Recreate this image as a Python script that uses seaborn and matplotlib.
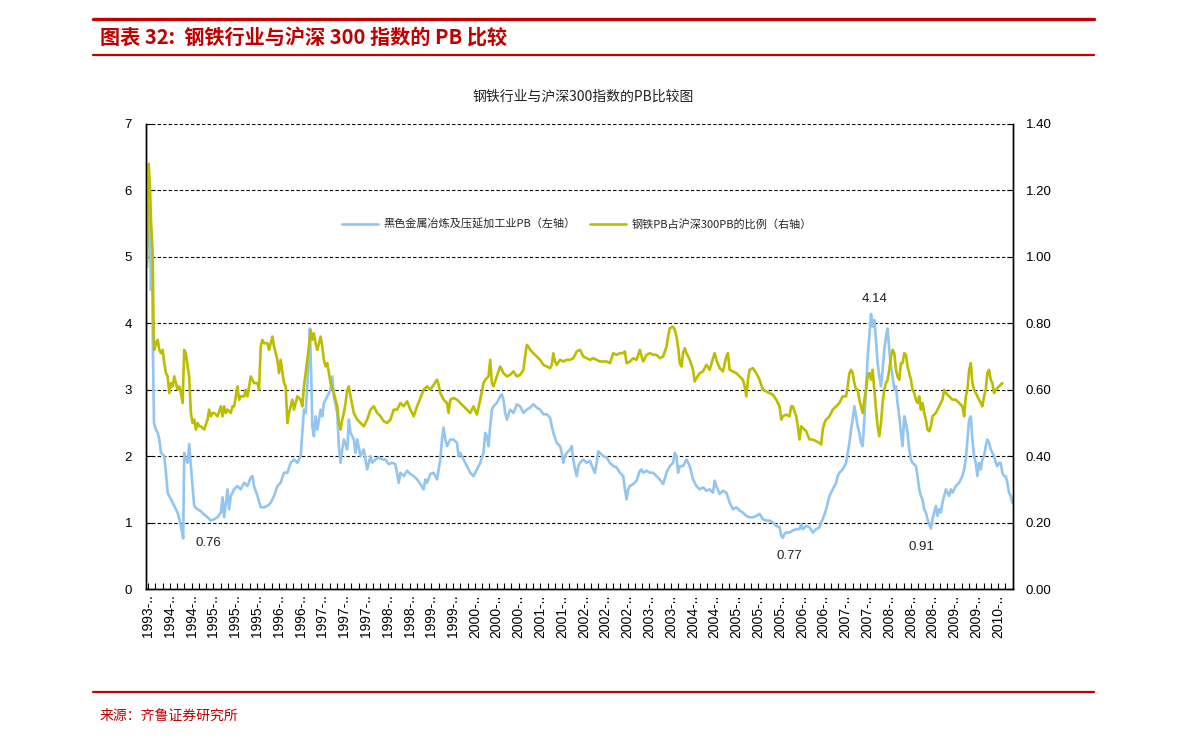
import numpy as np
import pandas as pd
import matplotlib
matplotlib.use('Agg')
import matplotlib.pyplot as plt
from matplotlib.lines import Line2D
import seaborn as sns

sns.set_theme(style='white')
plt.rcParams['font.family'] = ['Noto Sans CJK SC', 'DejaVu Sans']
plt.rcParams['axes.unicode_minus'] = False

# x = trading week since the start of the series
blue_week = [0, 1, 2, 3, 4, 5, 6, 7,
             9, 10.7, 12.3, 14, 17.3, 19, 20.7, 22.3,
             24, 27.3, 30.7, 34, 36.3, 37.3, 39, 40.7,
             42.3, 44, 45.7, 47.3, 50.7, 54, 57.3, 60.7,
             64, 67.3, 70.7, 74, 75.7, 77.3, 80.7, 82.3,
             84, 87.3, 90.7, 94, 97.3, 100.7, 104, 105.7,
             107.3, 110.7, 114, 117.3, 120.7, 124, 127.3, 130.7,
             134, 137.3, 140.7, 144, 147.3, 150.7, 154, 155.7,
             157.3, 159, 160.7, 162.3, 163.3, 164.7, 165.7, 167.3,
             169, 170.7, 174, 175.7, 177.3, 180.7, 184, 185.7,
             187.3, 190.7, 192.3, 194, 195.7, 197.3, 200.7, 202.3,
             204, 207.3, 209, 210.7, 214, 217.3, 220.7, 224,
             225.7, 229, 232.3, 235.7, 239, 242.3, 245.7, 249,
             252.3, 254, 257.3, 260.7, 264, 267.3, 270.7, 274,
             277.3, 279, 280.7, 284, 287.3, 290.7, 294, 295.7,
             297.3, 299, 300.7, 304, 307.3, 310.7, 312.3, 314,
             317.3, 320.7, 324, 327.3, 330.7, 334, 337.3, 339,
             340.7, 342.3, 344, 345.7, 347.3, 350.7, 354, 355.7,
             357.3, 359, 360.7, 364, 367.3, 370.7, 374, 377.3,
             380.7, 384, 387.3, 390.7, 394, 397.3, 400.7, 404,
             405.7, 407.3, 410.7, 414, 415.7, 417.3, 419, 420.7,
             424, 425.7, 427.3, 429, 430.7, 432.3, 434, 437.3,
             440.7, 444, 447.3, 449, 450.7, 452.3, 454, 457.3,
             460.7, 464, 467.3, 470.7, 474, 477.3, 479, 480.7,
             482.3, 484, 487.3, 490.7, 494, 495.7, 497.3, 500.7,
             504, 507.3, 510.7, 514, 517.3, 520.7, 524, 527.3,
             529, 530.7, 532.3, 534, 537.3, 540.7, 544, 547.3,
             550.7, 554, 557.3, 560.7, 564, 567.3, 569, 570.7,
             574, 577.3, 580.7, 584, 587.3, 590.7, 594, 597.3,
             600.7, 604, 607.3, 610.7, 614, 617.3, 620.7, 624,
             627.3, 630.7, 634, 635.7, 637.3, 639, 640.7, 644,
             647.3, 650.7, 654, 655.7, 657.3, 660.7, 664, 667.3,
             670.7, 674, 675.7, 677.3, 680.7, 684, 687.3, 690.7,
             692.3, 694, 697.3, 700.7, 702.3, 704, 705.7, 707.3,
             709, 710.7, 712.3, 714, 715.7, 717.3, 719, 720.7,
             722.3, 724, 725.7, 727.3, 729, 730.7, 732.3, 734,
             735.7, 737.3, 739, 740.7, 742.3, 744, 745.7, 747.3,
             749, 750.7, 752.3, 754, 755.7, 757.3, 759, 760.7,
             762.3, 764, 765.7, 767.3, 770.7, 772.3, 774, 775.7,
             777.3, 779, 780.7, 782.3, 784, 785.7, 787.3, 789,
             790.7, 792.3, 794, 795.7, 797.3, 799, 800.7, 804,
             805.7, 807.3, 809, 810.7, 814, 817.3, 819, 820.7,
             822.3, 824, 825.7, 827.3, 829, 830.7, 832.3, 834,
             835.7, 837.3, 839, 840.7, 842.3, 844, 845.7, 847.3,
             849, 850.7, 852.3, 854, 855.7, 857.3, 859, 860.7,
             862.3, 864, 865.7, 867.3]
blue_pb = [4.9, 5.5, 5.78, 5.3, 4.5, 5.05, 3.5, 2.5,
           2.4, 2.35, 2.25, 2.05, 2.0, 1.75, 1.45, 1.4,
           1.35, 1.25, 1.15, 0.95, 0.76, 2.05, 1.95, 1.9,
           2.18, 1.85, 1.55, 1.25, 1.2, 1.17, 1.12, 1.08,
           1.03, 1.05, 1.08, 1.15, 1.38, 1.08, 1.5, 1.2,
           1.4, 1.5, 1.55, 1.5, 1.6, 1.55, 1.68, 1.7,
           1.55, 1.4, 1.23, 1.23, 1.25, 1.3, 1.4, 1.55,
           1.6, 1.75, 1.75, 1.9, 1.95, 1.9, 2.0, 2.35,
           2.7, 2.65, 3.05, 3.55, 3.92, 3.15, 2.45, 2.3,
           2.6, 2.4, 2.7, 2.6, 2.8, 2.9, 3.0, 3.2,
           2.9, 2.65, 2.15, 1.9, 2.1, 2.25, 2.1, 2.55,
           2.35, 2.25, 2.05, 2.25, 2.0, 2.1, 1.8, 2.0,
           1.9, 1.95, 1.98, 1.95, 1.95, 1.88, 1.9, 1.88,
           1.6, 1.75, 1.7, 1.78, 1.73, 1.7, 1.65, 1.58,
           1.5, 1.65, 1.6, 1.73, 1.75, 1.65, 1.95, 2.25,
           2.43, 2.25, 2.15, 2.25, 2.25, 2.2, 2.0, 2.05,
           1.95, 1.85, 1.75, 1.7, 1.8, 1.9, 2.05, 2.35,
           2.3, 2.15, 2.45, 2.7, 2.75, 2.8, 2.9, 2.93,
           2.85, 2.65, 2.55, 2.7, 2.65, 2.78, 2.75, 2.65,
           2.7, 2.73, 2.78, 2.73, 2.7, 2.63, 2.63, 2.58,
           2.45, 2.35, 2.2, 2.15, 2.05, 1.9, 2.0, 2.05,
           2.1, 2.15, 1.95, 1.8, 1.7, 1.85, 1.9, 1.95,
           1.9, 1.93, 1.8, 1.75, 1.9, 2.07, 2.05, 2.0,
           1.98, 1.9, 1.85, 1.83, 1.75, 1.7, 1.5, 1.35,
           1.5, 1.55, 1.58, 1.63, 1.78, 1.8, 1.75, 1.78,
           1.75, 1.75, 1.7, 1.65, 1.58, 1.75, 1.85, 1.9,
           2.05, 2.0, 1.75, 1.85, 1.85, 1.95, 1.85, 1.65,
           1.55, 1.5, 1.53, 1.48, 1.5, 1.45, 1.63, 1.55,
           1.43, 1.48, 1.45, 1.3, 1.2, 1.23, 1.18, 1.15,
           1.1, 1.08, 1.08, 1.1, 1.13, 1.05, 1.03, 1.03,
           1.0, 0.95, 0.93, 0.8, 0.77, 0.83, 0.85, 0.85,
           0.88, 0.9, 0.9, 0.98, 0.9, 0.95, 0.93, 0.85,
           0.9, 0.93, 1.0, 1.05, 1.2, 1.4, 1.5, 1.6,
           1.7, 1.75, 1.8, 1.9, 2.05, 2.2, 2.4, 2.55,
           2.75, 2.6, 2.45, 2.35, 2.2, 2.15, 2.55, 3.0,
           3.5, 3.8, 4.14, 3.95, 4.05, 3.75, 3.4, 3.2,
           3.05, 3.3, 3.6, 3.8, 3.92, 3.6, 3.35, 3.2,
           3.0, 3.05, 2.8, 2.6, 2.35, 2.15, 2.6, 2.5,
           2.35, 2.1, 1.95, 1.9, 1.85, 1.7, 1.5, 1.4,
           1.35, 1.2, 1.15, 1.05, 0.98, 0.91, 1.05, 1.15,
           1.25, 1.1, 1.2, 1.15, 1.3, 1.4, 1.5, 1.4,
           1.5, 1.45, 1.5, 1.55, 1.6, 1.7, 1.8, 1.95,
           2.25, 2.55, 2.6, 2.25, 2.0, 1.9, 1.7, 1.9,
           1.8, 1.95, 2.0, 2.15, 2.25, 2.2, 2.1, 2.05,
           2.0, 1.9, 1.85, 1.9, 1.9, 1.75, 1.7, 1.7,
           1.6, 1.45, 1.4, 1.3]

ratio_week = [0, 0.7, 1.7, 3, 4, 5.7, 6.7, 7.3,
              9, 10.7, 12.3, 14, 15.7, 17.3, 19, 20.7,
              22.3, 24, 25.7, 27.3, 29, 30.7, 32.3, 34,
              35.7, 37.3, 39, 40.7, 42.3, 44, 45.7, 47.3,
              49, 50.7, 52.3, 54, 57.3, 60.7, 62.3, 64,
              65.7, 67.3, 70.7, 74, 75.7, 77.3, 79, 80.7,
              84, 85.7, 87.3, 90.7, 92.3, 94, 97.3, 99,
              100.7, 104, 107.3, 110.7, 112.3, 114, 115.7, 117.3,
              120.7, 122.3, 124, 125.7, 127.3, 130.7, 132.3, 134,
              137.3, 139, 140.7, 142.3, 144, 145.7, 147.3, 150.7,
              154, 155.7, 157.3, 159, 160.7, 162.3, 164, 165.7,
              167.3, 169, 170.7, 174, 175.7, 177.3, 179, 180.7,
              184, 187.3, 190.7, 192.3, 194, 195.7, 197.3, 199,
              200.7, 202.3, 204, 207.3, 210.7, 214, 217.3, 220.7,
              224, 227.3, 230.7, 234, 237.3, 240.7, 244, 247.3,
              250.7, 254, 257.3, 260.7, 264, 267.3, 270.7, 274,
              277.3, 280.7, 284, 287.3, 290.7, 292.3, 294, 297.3,
              300.7, 302.3, 304, 307.3, 310.7, 314, 317.3, 320.7,
              324, 327.3, 330.7, 334, 337.3, 339, 342.3, 344,
              345.7, 347.3, 350.7, 354, 357.3, 360.7, 364, 367.3,
              370.7, 374, 377.3, 379, 380.7, 382.3, 384, 387.3,
              390.7, 394, 397.3, 400.7, 404, 405.7, 407.3, 409,
              410.7, 414, 417.3, 420.7, 424, 427.3, 430.7, 434,
              437.3, 440.7, 444, 447.3, 450.7, 454, 457.3, 460.7,
              464, 467.3, 470.7, 474, 477.3, 479, 480.7, 484,
              487.3, 490.7, 494, 495.7, 497.3, 500.7, 504, 507.3,
              510.7, 514, 517.3, 520.7, 522.3, 524, 527.3, 529,
              530.7, 532.3, 534, 535.7, 537.3, 539, 540.7, 544,
              547.3, 549, 550.7, 554, 557.3, 560.7, 564, 567.3,
              569, 570.7, 574, 577.3, 580.7, 582.3, 584, 587.3,
              590.7, 594, 597.3, 599, 600.7, 602.3, 604, 607.3,
              610.7, 614, 617.3, 620.7, 624, 627.3, 630.7, 634,
              635.7, 637.3, 640.7, 644, 645.7, 647.3, 650.7, 652.3,
              654, 655.7, 657.3, 660.7, 664, 667.3, 670.7, 674,
              675.7, 677.3, 679, 680.7, 684, 687.3, 690.7, 694,
              697.3, 700.7, 702.3, 704, 705.7, 707.3, 709, 710.7,
              712.3, 714, 715.7, 717.3, 719, 720.7, 722.3, 724,
              725.7, 727.3, 729, 730.7, 732.3, 734, 735.7, 737.3,
              739, 740.7, 742.3, 744, 745.7, 747.3, 749, 750.7,
              752.3, 754, 755.7, 757.3, 759, 760.7, 762.3, 764,
              765.7, 767.3, 769, 770.7, 772.3, 774, 775.7, 777.3,
              779, 780.7, 782.3, 784, 785.7, 787.3, 790.7, 794,
              797.3, 799, 800.7, 804, 807.3, 810.7, 814, 817.3,
              819, 820.7, 822.3, 824, 825.7, 827.3, 829, 830.7,
              834, 835.7, 837.3, 839, 840.7, 842.3, 844, 845.7,
              847.3, 849, 850.7, 852.3, 854, 855.7, 857.3]
ratio_val = [0.97, 1.19, 1.28, 1.21, 1.11, 1.01, 0.76, 0.72,
             0.74, 0.75, 0.72, 0.71, 0.72, 0.68, 0.65, 0.64,
             0.59, 0.62, 0.61, 0.64, 0.62, 0.60, 0.61, 0.59,
             0.56, 0.72, 0.71, 0.67, 0.64, 0.53, 0.50, 0.51,
             0.48, 0.50, 0.49, 0.49, 0.48, 0.51, 0.54, 0.52,
             0.53, 0.53, 0.52, 0.55, 0.52, 0.55, 0.53, 0.54,
             0.53, 0.55, 0.55, 0.61, 0.57, 0.58, 0.58, 0.60,
             0.58, 0.64, 0.62, 0.62, 0.60, 0.73, 0.75, 0.74,
             0.74, 0.72, 0.74, 0.76, 0.73, 0.69, 0.65, 0.69,
             0.62, 0.61, 0.50, 0.53, 0.55, 0.57, 0.54, 0.58,
             0.57, 0.55, 0.61, 0.65, 0.69, 0.73, 0.78, 0.75,
             0.77, 0.74, 0.72, 0.76, 0.73, 0.69, 0.67, 0.68,
             0.62, 0.59, 0.55, 0.50, 0.48, 0.51, 0.53, 0.56,
             0.60, 0.61, 0.58, 0.53, 0.51, 0.50, 0.49, 0.51,
             0.54, 0.55, 0.53, 0.52, 0.505, 0.50, 0.51, 0.54,
             0.54, 0.56, 0.55, 0.565, 0.54, 0.52, 0.55, 0.575,
             0.60, 0.61, 0.60, 0.615, 0.63, 0.615, 0.59, 0.57,
             0.56, 0.53, 0.57, 0.575, 0.57, 0.56, 0.55, 0.54,
             0.53, 0.55, 0.525, 0.57, 0.62, 0.63, 0.64, 0.69,
             0.62, 0.61, 0.64, 0.67, 0.65, 0.64, 0.645, 0.655,
             0.64, 0.645, 0.66, 0.70, 0.735, 0.73, 0.72, 0.71,
             0.70, 0.69, 0.675, 0.67, 0.665, 0.675, 0.71, 0.685,
             0.675, 0.69, 0.685, 0.69, 0.69, 0.695, 0.715, 0.72,
             0.70, 0.695, 0.69, 0.695, 0.69, 0.685, 0.685, 0.685,
             0.68, 0.71, 0.705, 0.71, 0.71, 0.715, 0.68, 0.685,
             0.695, 0.69, 0.72, 0.70, 0.685, 0.705, 0.71, 0.705,
             0.705, 0.695, 0.70, 0.73, 0.76, 0.785, 0.79, 0.78,
             0.76, 0.73, 0.68, 0.67, 0.71, 0.725, 0.71, 0.69,
             0.66, 0.625, 0.635, 0.65, 0.655, 0.675, 0.66, 0.695,
             0.71, 0.69, 0.665, 0.655, 0.70, 0.71, 0.66, 0.655,
             0.65, 0.64, 0.63, 0.61, 0.58, 0.63, 0.66, 0.665,
             0.65, 0.63, 0.60, 0.595, 0.59, 0.585, 0.57, 0.55,
             0.51, 0.52, 0.525, 0.52, 0.55, 0.55, 0.52, 0.49,
             0.45, 0.49, 0.485, 0.475, 0.45, 0.45, 0.445, 0.44,
             0.435, 0.48, 0.50, 0.51, 0.52, 0.54, 0.55, 0.56,
             0.58, 0.58, 0.61, 0.65, 0.66, 0.65, 0.62, 0.60,
             0.60, 0.57, 0.55, 0.53, 0.57, 0.60, 0.64, 0.65,
             0.63, 0.66, 0.60, 0.54, 0.49, 0.46, 0.50, 0.56,
             0.60, 0.62, 0.63, 0.66, 0.70, 0.72, 0.71, 0.66,
             0.64, 0.63, 0.68, 0.68, 0.71, 0.705, 0.67, 0.65,
             0.63, 0.60, 0.59, 0.57, 0.56, 0.58, 0.54, 0.56,
             0.53, 0.51, 0.48, 0.475, 0.49, 0.52, 0.53, 0.55,
             0.57, 0.60, 0.59, 0.58, 0.57, 0.57, 0.56, 0.55,
             0.52, 0.58, 0.60, 0.66, 0.68, 0.62, 0.60, 0.59,
             0.57, 0.56, 0.55, 0.58, 0.60, 0.65, 0.66, 0.63,
             0.62, 0.59, 0.60, 0.605, 0.61, 0.615, 0.62]

tick_years = ['1993', '1994', '1994', '1995', '1995', '1995', '1996', '1996',
              '1997', '1997', '1997', '1998', '1998', '1999', '1999', '2000',
              '2000', '2000', '2001', '2001', '2002', '2002', '2002', '2003',
              '2003', '2004', '2004', '2005', '2005', '2005', '2006', '2006',
              '2007', '2007', '2008', '2008', '2008', '2009', '2009', '2010']

# extreme points marked with their value
marks = [('0.76', 36.3), ('0.77', 637.3), ('4.14', 725.7), ('0.91', 785.7)]

name_pb = '黑色金属冶炼及压延加工业PB（左轴）'
name_ratio = '钢铁PB占沪深300PB的比例（右轴）'

blue = '#92C5F0'
olive = '#BDBD00'
red = '#C00000'
W, H = 1191, 742

df_pb = pd.DataFrame({'week': blue_week, 'pb': blue_pb})
df_ratio = pd.DataFrame({'week': ratio_week, 'ratio': ratio_val})

fig = plt.figure(figsize=(W / 100, H / 100), dpi=100)
fig.patch.set_facecolor('white')
ax = fig.add_axes([146 / W, 1 - 589 / H, (1013 - 146) / W, (589 - 124) / H])

sns.lineplot(data=df_pb, x='week', y='pb', ax=ax, color=blue, lw=1.9,
             estimator=None, sort=False, label=name_pb)
ax2 = ax.twinx()
sns.lineplot(data=df_ratio, x='week', y='ratio', ax=ax2, color=olive, lw=1.9,
             estimator=None, sort=False, label=name_ratio)

ax.set_xlim(-1, 868)
ax.set_ylim(0, 7)
ax2.set_ylim(0, 1.4)
ax.set_yticks(np.arange(0, 8, 1))
ax2.set_yticks(np.arange(0, 1.41, 0.2))
ax2.set_yticklabels(['%.2f' % v for v in np.arange(0, 1.41, 0.2)])

tick_pos = np.linspace(1, 853, len(tick_years))
ax.set_xticks(tick_pos)
ax.set_xticklabels([y + '-..' for y in tick_years], rotation=90,
                   family='Liberation Sans', fontsize=10)
step = tick_pos[1] - tick_pos[0]
ax.set_xticks(np.arange(tick_pos[0], 868, step / 3), minor=True)

for a in (ax, ax2):
    a.set_xlabel('')
    a.set_ylabel('')
    for lab in a.get_yticklabels():
        lab.set_family('Liberation Sans')
        lab.set_fontsize(9.5)
    for s in a.spines.values():
        s.set_color('black')
        s.set_linewidth(1.0)
    a.spines['top'].set_visible(False)
ax.tick_params(axis='x', which='both', direction='in', length=4, width=0.8,
               bottom=True, pad=4, colors='black')
ax.tick_params(axis='y', direction='in', length=4, width=0.8, left=True,
               pad=10, colors='black')
ax2.tick_params(axis='y', direction='in', length=4, width=0.8, right=True,
                pad=9, colors='black')

ax.yaxis.grid(True, color='black', ls=(0, (3, 2)), lw=0.8)
ax.xaxis.grid(False)
ax2.grid(False)

offsets = {'0.76': (25, -4), '0.77': (7, -18), '4.14': (4, 15), '0.91': (-9, -18)}
for txt, wk in marks:
    val = blue_pb[blue_week.index(wk)]
    ax.annotate(txt, xy=(wk, val), xytext=offsets[txt], textcoords='offset pixels',
                ha='center', va='center', fontsize=9.5, family='Liberation Sans',
                color='#222222')

h1, l1 = ax.get_legend_handles_labels()
h2, l2 = ax2.get_legend_handles_labels()
ax.get_legend().remove()
ax2.get_legend().remove()
fig.legend(h1 + h2, l1 + l2, loc='center', bbox_to_anchor=(577 / W, 1 - 224 / H),
           ncol=2, frameon=False, fontsize=8, handlelength=3.2,
           columnspacing=1.3, handletextpad=0.5)

fig.text(583 / W, 1 - 97 / H, '钢铁行业与沪深300指数的PB比较图', ha='center', va='center',
         fontsize=10, color='#222222')

fig.add_artist(Line2D([93 / W, 1094 / W], [1 - 19 / H] * 2, color=red, lw=2.4))
fig.add_artist(Line2D([93 / W, 1094 / W], [1 - 55 / H] * 2, color=red, lw=1.6))
fig.add_artist(Line2D([93 / W, 1094 / W], [1 - 692 / H] * 2, color=red, lw=1.6))
fig.text(100 / W, 1 - 38 / H, '图表 32:  钢铁行业与沪深 300 指数的 PB 比较', ha='left',
         va='center', fontsize=14.5, fontweight='bold', style='italic', color=red)
fig.text(100 / W, 1 - 716 / H, '来源：齐鲁证券研究所', ha='left', va='center',
         fontsize=10, color=red)

fig.savefig('out.png', dpi=100, facecolor='white')
